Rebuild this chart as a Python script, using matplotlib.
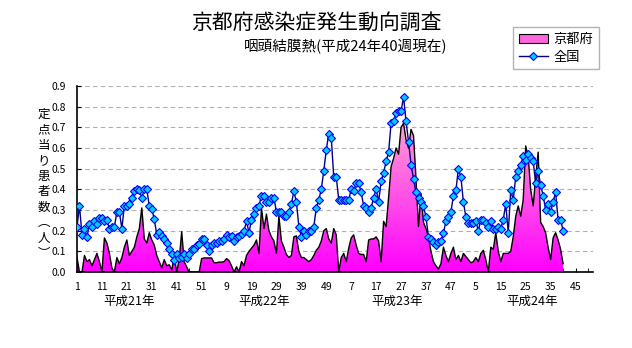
import numpy as np
import matplotlib
matplotlib.use('Agg')
import matplotlib.pyplot as plt
from matplotlib.colors import LinearSegmentedColormap
from matplotlib.patches import Patch
from matplotlib.lines import Line2D

plt.rcParams['font.family'] = ['Noto Sans CJK JP', 'DejaVu Sans']

#categories: 4 seasons x 52 weeks (H21-H24)
years = ['平成21年', '平成22年', '平成23年', '平成24年']
weeks = [(y, w) for y in years for w in range(1, 53)]
tick_labels = ['1', '11', '21', '31', '41', '51', '9', '19', '29', '39', '49',
               '7', '17', '27', '37', '47', '5', '15', '25', '35', '45']
year_label_pos = [21, 75, 128.5, 182.5]

#京都府 (per sentinel), up to H24 week 40
kyoto = [0.07, 0.0, 0.0, 0.08, 0.05, 0.06, 0.03, 0.06, 0.09, 0.05,
         0.0, 0.165, 0.14, 0.09, 0.02, 0.0, 0.07, 0.04, 0.07, 0.12,
         0.155, 0.08, 0.10, 0.12, 0.17, 0.21, 0.31, 0.16, 0.14, 0.19,
         0.155, 0.13, 0.08, 0.05, 0.02, 0.06, 0.03, 0.035, 0.01, 0.075,
         0.0, 0.06, 0.195, 0.05, 0.025, 0.0, 0.0, 0.0, 0.0, 0.0,
         0.065, 0.068, 0.068, 0.068, 0.068, 0.045, 0.045, 0.048, 0.048, 0.05,
         0.065, 0.055, 0.03, 0.0, 0.025, 0.0, 0.05, 0.03, 0.08, 0.10,
         0.115, 0.13, 0.155, 0.09, 0.31, 0.21, 0.28, 0.20, 0.17, 0.15,
         0.09, 0.27, 0.15, 0.12, 0.085, 0.07, 0.08, 0.17, 0.175, 0.10,
         0.07, 0.07, 0.06, 0.05, 0.06, 0.08, 0.105, 0.12, 0.15, 0.20,
         0.21, 0.16, 0.14, 0.21, 0.18, 0.0, 0.07, 0.09, 0.05, 0.115,
         0.165, 0.18, 0.13, 0.09, 0.085, 0.085, 0.05, 0.155, 0.16, 0.16,
         0.17, 0.15, 0.05, 0.245, 0.22, 0.36, 0.51, 0.55, 0.60, 0.57,
         0.70, 0.72, 0.64, 0.60, 0.69, 0.66, 0.45, 0.22, 0.38, 0.24,
         0.21, 0.17, 0.10, 0.05, 0.03, 0.015, 0.04, 0.12, 0.08, 0.05,
         0.09, 0.12, 0.06, 0.08, 0.05, 0.09, 0.075, 0.06, 0.045, 0.05,
         0.07, 0.05, 0.09, 0.105, 0.06, 0.0, 0.12, 0.11, 0.19, 0.10,
         0.05, 0.09, 0.09, 0.09, 0.10, 0.17, 0.27, 0.32, 0.27, 0.35,
         0.61, 0.56, 0.40, 0.32, 0.46, 0.58, 0.24, 0.22, 0.19, 0.12,
         0.06, 0.165, 0.19, 0.155, 0.11, 0.04]

#全国
zenkoku = [0.22, 0.32, 0.18, 0.21, 0.17, 0.23, 0.22, 0.245, 0.23, 0.26,
           0.26, 0.245, 0.25, 0.21, 0.22, 0.22, 0.29, 0.29, 0.21, 0.32,
           0.32, 0.33, 0.36, 0.39, 0.40, 0.395, 0.36, 0.40, 0.40, 0.32,
           0.305, 0.255, 0.18, 0.195, 0.175, 0.16, 0.14, 0.11, 0.085, 0.06,
           0.087, 0.068, 0.073, 0.087, 0.07, 0.085, 0.11, 0.11, 0.13, 0.135,
           0.16, 0.16, 0.13, 0.10, 0.13, 0.14, 0.14, 0.15, 0.15, 0.16,
           0.18, 0.17, 0.175, 0.15, 0.17, 0.175, 0.185, 0.20, 0.245, 0.19,
           0.253, 0.28, 0.31, 0.32, 0.37, 0.37, 0.34, 0.34, 0.36, 0.36,
           0.29, 0.29, 0.29, 0.27, 0.27, 0.29, 0.33, 0.39, 0.34, 0.22,
           0.17, 0.20, 0.18, 0.20, 0.20, 0.22, 0.31, 0.35, 0.40, 0.49,
           0.59, 0.67, 0.65, 0.46, 0.46, 0.35, 0.35, 0.35, 0.35, 0.35,
           0.40, 0.39, 0.43, 0.43, 0.385, 0.32, 0.31, 0.29, 0.31, 0.36,
           0.40, 0.34, 0.44, 0.48, 0.535, 0.58, 0.72, 0.73, 0.77, 0.78,
           0.78, 0.845, 0.73, 0.63, 0.52, 0.45, 0.385, 0.36, 0.34, 0.32,
           0.265, 0.17, 0.16, 0.145, 0.13, 0.145, 0.15, 0.19, 0.245, 0.265,
           0.29, 0.37, 0.395, 0.50, 0.46, 0.34, 0.265, 0.235, 0.235, 0.235,
           0.245, 0.20, 0.253, 0.253, 0.237, 0.22, 0.245, 0.21, 0.21, 0.22,
           0.21, 0.253, 0.33, 0.19, 0.395, 0.35, 0.46, 0.49, 0.52, 0.56,
           0.54, 0.57, 0.55, 0.535, 0.43, 0.49, 0.42, 0.37, 0.30, 0.33,
           0.29, 0.34, 0.385, 0.253, 0.253, 0.20]

x = np.arange(len(kyoto))
n_cat = len(weeks)

fig = plt.figure(figsize=(6.32, 3.48), dpi=100)
ax = fig.add_axes([77/632, 76/348, 516/632, 186/348])

#gradient area for Kyoto, clipped to the filled polygon
poly = ax.fill_between(x, kyoto, 0, facecolor='none', edgecolor='none')
cmap = LinearSegmentedColormap.from_list('kyo', ['#FF00FF', '#FFA0D2'])
grad = np.linspace(0, 1, 256).reshape(-1, 1)
im = ax.imshow(grad, extent=[0, x[-1], 0, max(kyoto)], origin='lower',
               aspect='auto', cmap=cmap, zorder=1, interpolation='bilinear')
im.set_clip_path(poly.get_paths()[0], transform=ax.transData)
ax.plot(x, kyoto, color='black', lw=1, zorder=2)

ax.plot(x, zenkoku, color='#000080', lw=1, marker='D', ms=3.8,
        mfc='#00CCFF', mec='#0000FF', mew=0.8, zorder=3)

ax.set_xlim(0, n_cat - 1)
ax.set_ylim(0, 0.9)
ax.set_yticks(np.arange(0, 0.91, 0.1))
ax.set_yticklabels(['%.1f' % v for v in np.arange(0, 0.91, 0.1)], fontsize=7.5)
ax.set_xticks(np.arange(0, n_cat, 10))
ax.set_xticklabels(tick_labels, fontsize=7.5)
ax.set_xticks(np.arange(0, n_cat, 5), minor=True)
ax.tick_params(axis='x', which='both', direction='in', length=3, pad=7)
ax.tick_params(axis='y', direction='in', length=3, pad=8)
ax.yaxis.grid(True, color='#B0B0B0', linestyle=(0, (4, 3)), lw=0.8)
ax.set_axisbelow(True)
for s in ['top', 'right']:
    ax.spines[s].set_visible(False)
ax.spines['left'].set_linewidth(1.2)
ax.spines['bottom'].set_linewidth(1.2)

for pos, yl in zip(year_label_pos, years):
    ax.text(pos, -0.155, yl, ha='center', va='center', fontsize=9,
            transform=ax.get_xaxis_transform())

fig.text(44/632, 1 - 184/348, '\n'.join('定点当り患者数︵人︶'), ha='center',
         va='center', fontsize=9, linespacing=1.25)

fig.text(316/632, 1 - 23/348, '京都府感染症発生動向調査', ha='center', va='center',
         fontsize=15)
fig.text(346/632, 1 - 47/348, '咽頭結膜熱(平成24年40週現在)', ha='center',
         va='center', fontsize=10.5)

handles = [Patch(facecolor='#FF66DD', edgecolor='black', lw=0.8),
           Line2D([], [], color='#000080', lw=1, marker='D', ms=3.8,
                  mfc='#00CCFF', mec='#0000FF', mew=0.8)]
leg = fig.legend(handles, ['京都府', '全国'], loc='upper left',
                 bbox_to_anchor=(513/632, 1 - 27/348), borderaxespad=0,
                 fontsize=9.5, frameon=True, fancybox=False, borderpad=0.45,
                 handlelength=2.2, handletextpad=0.4, labelspacing=0.35)
leg.get_frame().set_edgecolor('#A0A0A0')
leg.get_frame().set_linewidth(1)

fig.savefig('out.png', dpi=100)
